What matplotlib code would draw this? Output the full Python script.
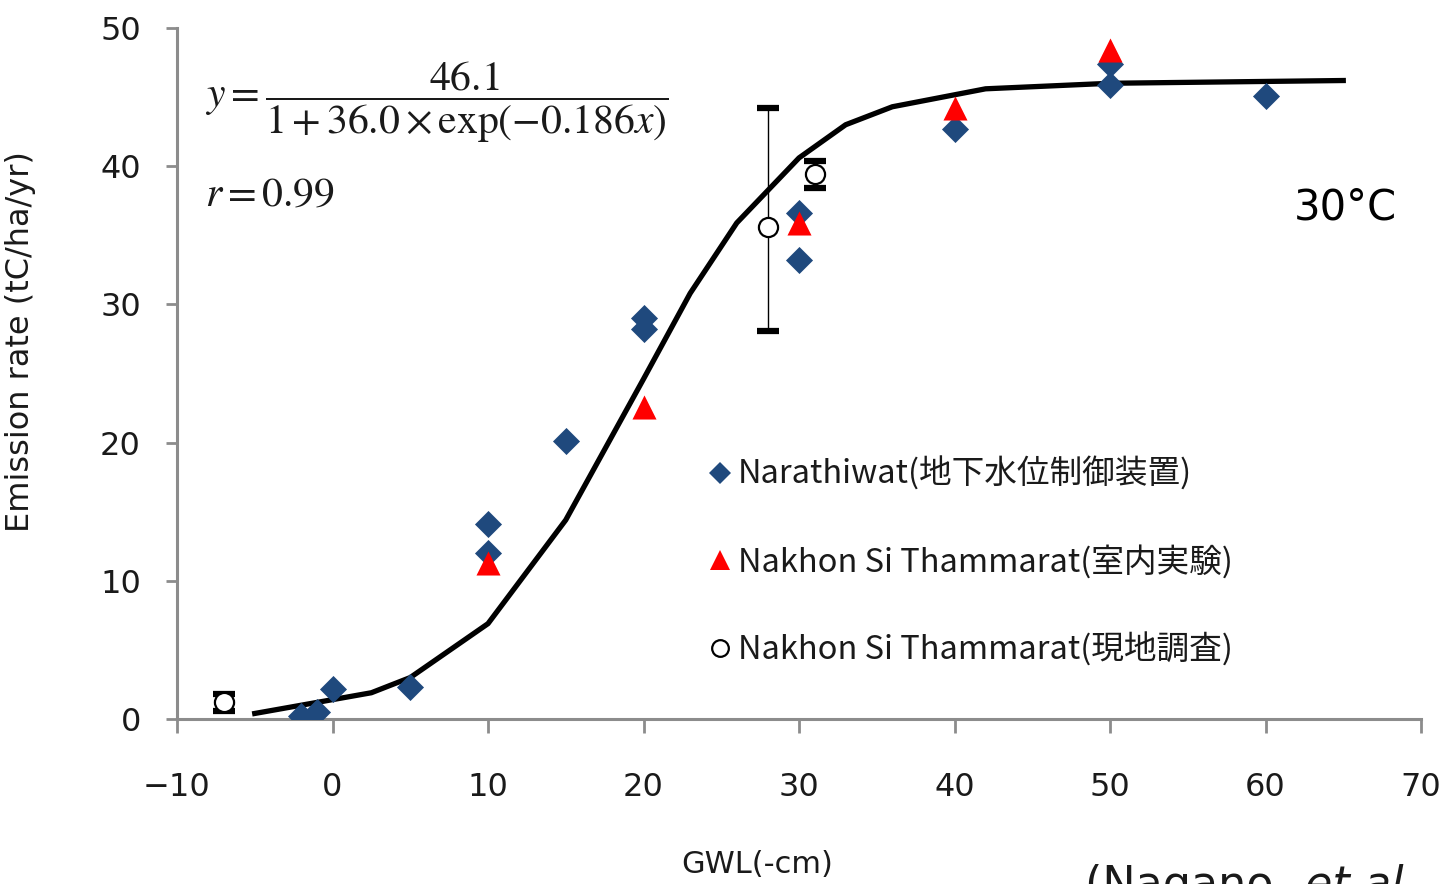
import matplotlib
matplotlib.use("Agg")
import matplotlib.pyplot as plt
from matplotlib.lines import Line2D

# Narathiwat (groundwater control device) - diamonds
nara_x = [-2, -1, 0, 5, 10, 10, 15, 20, 20, 30, 30, 40, 50, 50, 60]
nara_y = [0.2, 0.5, 2.2, 2.3, 14.1, 12.0, 20.1, 29.0, 28.2, 36.6, 33.2, 42.7, 47.4, 45.9, 45.1]

# Nakhon Si Thammarat (lab experiment) - triangles
lab_x = [10, 20, 30, 40, 50]
lab_y = [11.3, 22.6, 35.9, 44.2, 48.4]

# Nakhon Si Thammarat (field survey) - open circles with error bars
field_x = [-7, 28, 31]
field_y = [1.2, 35.6, 39.4]
field_err_lo = [0.6, 7.5, 1.0]
field_err_hi = [0.6, 8.6, 1.0]

# fitted logistic curve
fit_x = [-5, 2.5, 5, 10, 15, 20, 23, 26, 30, 33, 36, 42, 50, 65]
fit_y = [0.4, 1.9, 3.0, 6.9, 14.4, 24.6, 30.8, 35.9, 40.6, 43.0, 44.3, 45.6, 46.0, 46.2]

xticks = [-10, 0, 10, 20, 30, 40, 50, 60, 70]
yticks = [0, 10, 20, 30, 40, 50]

labels = ["Narathiwat(地下水位制御装置)",
          "Nakhon Si Thammarat(室内実験)",
          "Nakhon Si Thammarat(現地調査)"]

blue = "#1f497d"
grey = "#8c8c8c"
ink = "#1a1a1a"

fig = plt.figure(figsize=(14.49, 8.84), dpi=100)
ax = fig.add_axes([177/1449, 1-719/884, 1244/1449, 691/884])

ax.plot(fit_x, fit_y, color="black", lw=3.8, zorder=2)
ax.scatter(nara_x, nara_y, marker="D", s=190, color=blue, zorder=3, linewidths=0)
ax.scatter(lab_x, lab_y, marker="^", s=300, color="red", zorder=4, linewidths=0)
ax.errorbar(field_x, field_y, yerr=[field_err_lo, field_err_hi], fmt="none",
            ecolor="black", elinewidth=1.0, capsize=8, capthick=4.5, zorder=5)
ax.scatter(field_x, field_y, marker="o", s=190, facecolors="white",
           edgecolors="black", linewidths=1.6, zorder=6)

ax.set_xlim(-10, 70)
ax.set_ylim(0, 50)
ax.set_xticks(xticks)
ax.set_yticks(yticks)

for s in ["top", "right"]:
    ax.spines[s].set_visible(False)
for s in ["left", "bottom"]:
    ax.spines[s].set_color(grey)
    ax.spines[s].set_linewidth(2.2)
ax.tick_params(axis="x", colors=grey, width=2, length=10, labelsize=23,
               labelcolor=ink, pad=28)
ax.tick_params(axis="y", colors=grey, width=2, length=8, labelsize=23,
               labelcolor=ink, pad=18)

ax.set_ylabel("Emission rate (tC/ha/yr)", fontsize=23, color=ink)
ax.set_xlabel("GWL(-cm)", fontsize=22, color=ink)
ax.yaxis.set_label_coords(-0.113, 0.546)
ax.xaxis.set_label_coords(0.466, -0.19)

# equation
plt.rcParams["mathtext.fontset"] = "stix"
ax.text(-8.2, 44.6, r"$y=\dfrac{46.1}{1+36.0\times\exp(-0.186x)}$",
        fontsize=30, va="center", ha="left", color=ink)
ax.text(-8.2, 38.0, r"$r=0.99$", fontsize=30, va="center", ha="left", color=ink)

ax.text(61.8, 37.0, "30°C", fontsize=30, va="center", ha="left", color="black")

# legend
handles = [
    Line2D([], [], marker="D", ls="none", color=blue, ms=11, mew=0),
    Line2D([], [], marker="^", ls="none", color="red", ms=15, mew=0),
    Line2D([], [], marker="o", ls="none", mfc="white", mec="black", ms=12, mew=1.6),
]
leg = ax.legend(handles, labels, loc="upper left", bbox_to_anchor=(0.418, 0.398),
                frameon=False, handlelength=0.6, handletextpad=0.25,
                labelspacing=1.65, borderaxespad=0,
                prop={"family": ["Noto Sans CJK JP", "DejaVu Sans"], "size": 23.5})
for t in leg.get_texts():
    t.set_color(ink)

# citation, cut off by the bottom edge as in the source slide
fig.text(1085/1449, 1-864/884, "(Nagano, ", fontsize=32, va="top", ha="left", color=ink)
fig.text(1305/1449, 1-864/884, "et al.", fontsize=32, va="top", ha="left",
         style="italic", color=ink)

fig.savefig("out.png", dpi=100)
